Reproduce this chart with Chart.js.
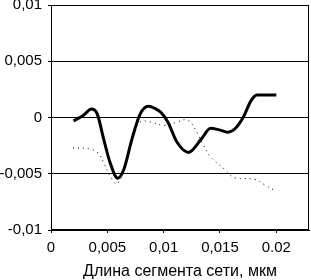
<!DOCTYPE html>
<html>
<head>
<meta charset="utf-8">
<script src="https://cdn.jsdelivr.net/npm/chart.js@4"></script>
<style>
  html, body { margin: 0; padding: 0; background: #fff; }
  #wrap { width: 311px; height: 280px; }
</style>
</head>
<body>
<div id="wrap"><canvas id="chart" width="311" height="280"></canvas></div>
<script>
// solid curve
const solidX = [0.0020, 0.00288, 0.00359, 0.00411, 0.00467, 0.00524, 0.00592, 0.00647, 0.00719, 0.00791, 0.00863, 0.00924, 0.00975, 0.01037, 0.01119, 0.01222, 0.01335, 0.01417, 0.01494, 0.01571, 0.01633, 0.01705, 0.01776, 0.01828, 0.0192, 0.0200];
const solidY = [-0.0003, 0.0002, 0.00075, 0.0003, -0.0019, -0.004, -0.0054, -0.0046, -0.0019, 0.0003, 0.001, 0.0008, 0.00046, -0.0004, -0.0022, -0.0031, -0.0019, -0.00096, -0.0011, -0.0013, -0.001, 0.0, 0.0015, 0.002, 0.002, 0.002];
// dotted curve
const dotX = [0.00195, 0.00349, 0.00421, 0.00467, 0.00524, 0.00585, 0.00647, 0.00719, 0.00791, 0.00883, 0.01006, 0.01119, 0.01201, 0.01253, 0.01356, 0.01417, 0.0154, 0.01602, 0.01643, 0.01807, 0.0190, 0.0197];
const dotY = [-0.0027, -0.0028, -0.0032, -0.004, -0.0052, -0.0059, -0.0045, -0.0018, -0.0004, -0.0004, -0.0007, -0.0004, -0.0002, -0.0006, -0.0025, -0.0035, -0.0046, -0.0052, -0.0054, -0.0055, -0.006, -0.0064];

const xTicks = [0, 0.005, 0.01, 0.015, 0.02];
const xTickLabels = ['0', '0,005', '0,01', '0,015', '0.02'];
const yTicks = [-0.01, -0.005, 0, 0.005, 0.01];
const yTickLabels = ['-0,01', '-0,005', '0', '0,005', '0,01'];

const toPoints = (xs, ys) => xs.map((x, i) => ({ x: x, y: ys[i] }));

// Excel-like frame round the plot area
const frame = {
    id: 'frame',
    afterDraw(chart) {
        const a = chart.chartArea;
        const c = chart.ctx;
        c.save();
        c.strokeStyle = '#000';
        c.lineWidth = 1;
        c.strokeRect(a.left + 0.5, a.top + 0.5, a.right - a.left - 1, a.bottom - a.top - 1);
        c.restore();
    }
};

const family = 'Liberation Sans, Arial, sans-serif';
const tickFont = { family: family, size: 15 };

new Chart(document.getElementById('chart').getContext('2d'), {
    type: 'line',
    data: {
        datasets: [{
            data: toPoints(solidX, solidY),
            borderColor: '#000',
            borderWidth: 3,
            cubicInterpolationMode: 'monotone',
            pointRadius: 0
        }, {
            data: toPoints(dotX, dotY),
            borderColor: '#000',
            borderWidth: 1,
            borderDash: [1, 4],
            tension: 0.4,
            pointRadius: 0
        }]
    },
    options: {
        responsive: false,
        animation: false,
        layout: { padding: { top: 5, right: 2, left: 0, bottom: 0 } },
        scales: {
            x: {
                type: 'linear',
                min: 0,
                max: 0.0229,
                afterBuildTicks: s => { s.ticks = xTicks.map(v => ({ value: v })); },
                afterFit: s => { s.height = 50; s.paddingLeft = 0; s.paddingRight = 0; },
                grid: { drawOnChartArea: false, color: '#000', tickLength: 3 },
                border: { color: '#000' },
                ticks: {
                    color: '#000',
                    font: tickFont,
                    maxRotation: 0,
                    autoSkip: false,
                    padding: 6,
                    callback: (v, i) => xTickLabels[i]
                },
                title: {
                    display: true,
                    text: 'Длина сегмента сети, мкм',
                    color: '#000',
                    font: { family: family, size: 16, lineHeight: 1 },
                    padding: { top: 0, bottom: 0 }
                }
            },
            y: {
                min: -0.01,
                max: 0.01,
                afterBuildTicks: s => { s.ticks = yTicks.map(v => ({ value: v })); },
                afterFit: s => { s.width = 51; s.paddingTop = 0; s.paddingBottom = 0; },
                grid: { color: '#000', tickLength: 3 },
                border: { color: '#000' },
                ticks: {
                    color: '#000',
                    font: tickFont,
                    padding: 6,
                    callback: (v, i) => yTickLabels[i]
                }
            }
        },
        plugins: {
            legend: { display: false },
            tooltip: { enabled: false }
        }
    },
    plugins: [frame]
});
</script>
</body>
</html>
